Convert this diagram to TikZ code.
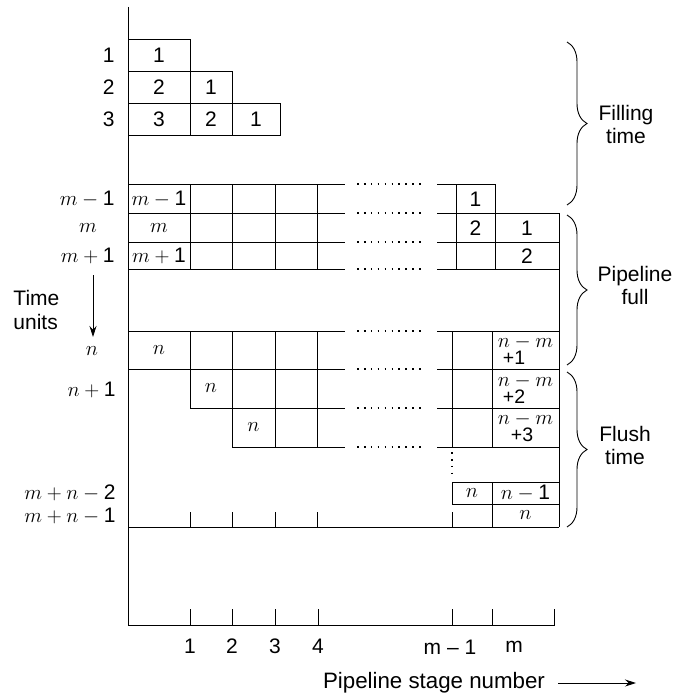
\documentclass[tikz,border=0pt]{standalone}
\usepackage{fontspec}
\setmainfont{Liberation Sans}
\usetikzlibrary{decorations.pathreplacing, arrows.meta}

\begin{document}
\begin{tikzpicture}[
  x=1pt, y=-1pt, line width=0.9pt,
  every node/.style={font=\fontsize{21}{17}\selectfont, inner sep=0pt},
  lbl/.style={anchor=east},
  two/.style={align=center, font=\fontsize{21}{23}\selectfont},
  nm/.style={align=left, font=\fontsize{19.5}{17}\selectfont},
  gap/.style={line width=1.6pt, dash pattern=on 1.6pt off 5.3pt},
  brc/.style={decorate, decoration={brace, amplitude=20pt}},
  tip/.style={-{Stealth[length=11pt, width=7pt]}}
]
  \useasboundingbox (0,0) rectangle (686,698);

  %--- Axes ---
  \draw (128,7) -- (128,625) -- (554,625) -- (554,609);
  \foreach \x in {190,232,275,318,452,492} \draw (\x,625) -- (\x,609);
  \node (s1) at (190,646) {1};
  \node (s2) at (232,646) {2};
  \node (s3) at (275,646) {3};
  \node (s4) at (318,646) {4};
  \node (sm1) at (450,647) {m -- 1};
  \node (sm) at (514,647) {m};
  \node[font=\fontsize{22.3}{24}\selectfont] (stage) at (434,683) {Pipeline stage number};
  \coordinate (sa) at (558,683);
  \coordinate (sb) at (636,683);
  \draw[tip] (sa) -- (sb);

  \node[align=left, anchor=west, font=\fontsize{21}{24}\selectfont] (time) at (13,310) {Time\\units};
  \coordinate (ta) at (93,275);
  \coordinate (tb) at (93,337);
  \draw[tip] (ta) -- (tb);

  %--- Rows 1 to 3 ---
  \draw (128,39) -| (190,135);
  \draw (128,71) -| (232,135);
  \draw (128,103) -| (280,135) -- (128,135);
  \node[lbl] (k1) at (115,55) {1};
  \node[lbl] (k2) at (115,87) {2};
  \node[lbl] (k3) at (115,119) {3};
  \node (a1) at (159,55) {1};
  \node (b2) at (159,87) {2};
  \node (b1) at (211,87) {1};
  \node (c3) at (159,119) {3};
  \node (c2) at (211,119) {2};
  \node (c1) at (256,119) {1};

  %--- Row lines with the gap ---
  \foreach \y in {184,213,242,269,331,369} \draw (128,\y) -- (345,\y);
  \draw (190,408) -- (345,408);
  \draw (232,447) -- (345,447);
  \foreach \y in {184,213,242,269,331,369,408,447} \draw[gap] (357,\y) -- (425,\y);
  \draw (437,184) -- (495,184);
  \foreach \y in {213,242,269,331,369,408,447} \draw (437,\y) -- (559,\y);

  %--- Columns ---
  \foreach \x in {190,232,275,317,456,495} \draw (\x,184) -- (\x,269);
  \draw (190,331) -- (190,408);
  \foreach \x in {232,275,317,452,492} \draw (\x,331) -- (\x,447);
  \draw (559,213) -- (559,527);
  \draw[gap] (452,452) -- (452,474);

  %--- Rows m-1 to m+1 ---
  \node[lbl] (km1) at (115,199) {$m-\mbox{1}$};
  \node (km) at (88,228) {$m$};
  \node[lbl] (kmp) at (115,256) {$m+\mbox{1}$};
  \node (d1) at (159,199) {$m-\mbox{1}$};
  \node (d2) at (475.5,199) {1};
  \node (e1) at (159,228) {$m$};
  \node (e2) at (475.5,228) {2};
  \node (e3) at (527,228) {1};
  \node (f1) at (159,256) {$m+\mbox{1}$};
  \node (f3) at (527,256) {2};

  %--- Rows n to n+2 ---
  \node (kn) at (92,351) {$n$};
  \node[lbl] (knp) at (116,390) {$n+\mbox{1}$};
  \node (g1) at (159,350) {$n$};
  \node[nm] (g3) at (525.5,350) {$n-m$\\\hspace{5pt}+1};
  \node (h1) at (211,388) {$n$};
  \node[nm] (h3) at (525.5,388.5) {$n-m$\\\hspace{5pt}+2};
  \node (i1) at (253.5,427) {$n$};
  \node[nm] (i3) at (525.5,427.5) {$n-m$\\\hspace{13pt}+3};

  %--- Last two rows ---
  \draw (452,482) -- (559,482);
  \draw (452,482) -- (452,504) -- (559,504);
  \draw (492,482) -- (492,527);
  \draw (128,527) -- (559,527);
  \foreach \x in {190,232,275,317,452} \draw (\x,527) -- (\x,512);
  \node[lbl] (kl2) at (116,493) {$m+n-\mbox{2}$};
  \node[lbl] (kl1) at (116,516) {$m+n-\mbox{1}$};
  \node (j1) at (472,493) {$n$};
  \node (j2) at (525.5,493) {$n-\mbox{1}$};
  \node (l2) at (525.5,515) {$n$};

  % Braces
  \coordinate (fa) at (567,42);  \coordinate (fb) at (567,205);
  \coordinate (pa) at (567,215); \coordinate (pb) at (567,365);
  \coordinate (ua) at (567,372); \coordinate (ub) at (567,527);
  \draw[brc] (fa) -- (fb);
  \draw[brc] (pa) -- (pb);
  \draw[brc] (ua) -- (ub);
  \node[two] (fill) at (626,124) {Filling\\time};
  \node[two] (full) at (635,285) {Pipeline\\full};
  \node[two] (flush) at (625,445) {Flush\\time};
\end{tikzpicture}
\end{document}
